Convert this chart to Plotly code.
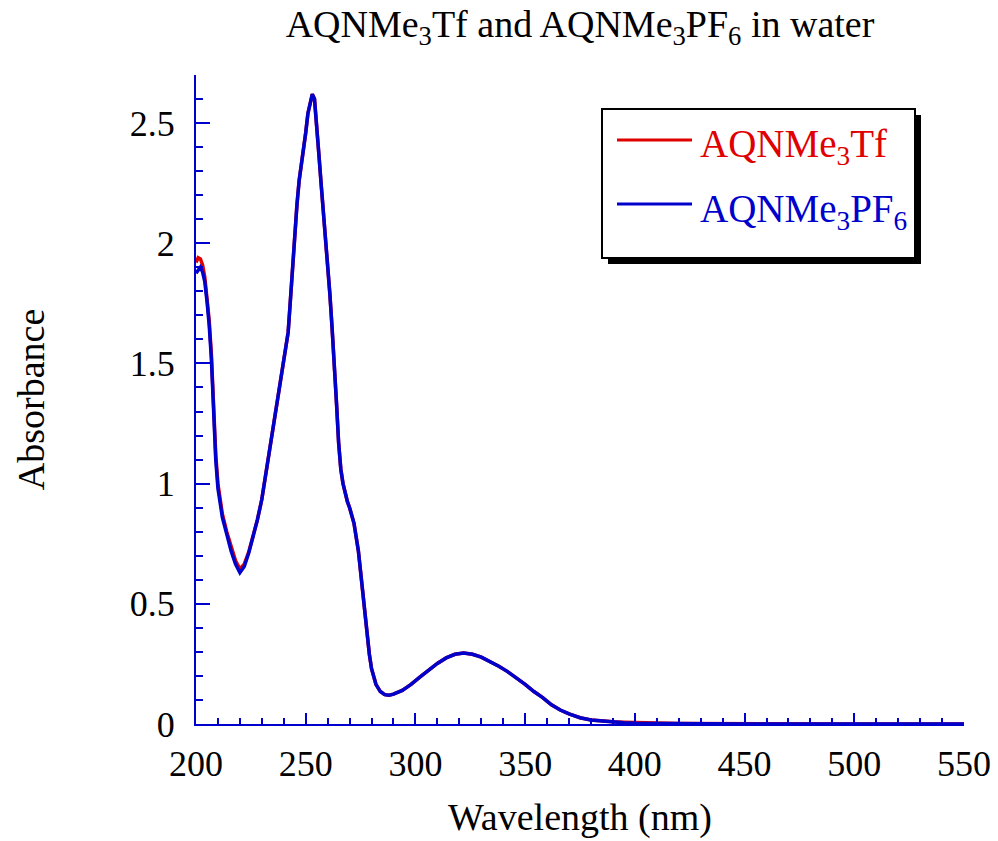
import plotly.graph_objects as go

# UV-vis spectra of the two anthraquinone salts in water
wavelength = [200, 201, 202, 203, 204, 205, 206, 207, 208, 209, 210, 212, 214, 216, 218,
              220, 222, 224, 226, 228, 230, 232, 234, 236, 238, 239, 240, 241, 242, 243,
              244, 245, 246, 247, 248, 249, 250, 251, 252, 253, 254, 255, 256, 257, 258,
              259, 260, 261, 262, 263, 264, 265, 266, 267, 268, 269, 270, 271, 272, 274,
              275, 276, 277, 278, 279, 280, 282, 284, 286, 288, 290, 294, 298, 302, 306,
              310, 314, 318, 322, 326, 330, 334, 338, 342, 346, 350, 354, 358, 362, 366,
              370, 375, 380, 385, 390, 395, 400, 410, 420, 450, 500, 550]

abs_tf = [1.92, 1.94, 1.935, 1.91, 1.86, 1.78, 1.68, 1.54, 1.32, 1.12, 1.00, 0.875, 0.80, 0.735, 0.68,
          0.645, 0.665, 0.715, 0.785, 0.85, 0.935, 1.05, 1.17, 1.28, 1.39, 1.45, 1.50, 1.56, 1.63, 1.76,
          1.90, 2.04, 2.16, 2.26, 2.32, 2.39, 2.46, 2.54, 2.59, 2.62, 2.60, 2.50, 2.37, 2.25, 2.14,
          2.03, 1.91, 1.79, 1.65, 1.51, 1.34, 1.17, 1.06, 1.00, 0.955, 0.925, 0.90, 0.87, 0.835, 0.72,
          0.63, 0.53, 0.44, 0.36, 0.29, 0.23, 0.165, 0.135, 0.122, 0.12, 0.124, 0.14, 0.165, 0.195, 0.225,
          0.252, 0.275, 0.29, 0.295, 0.29, 0.278, 0.26, 0.24, 0.218, 0.193, 0.165, 0.135, 0.11, 0.08, 0.058,
          0.042, 0.026, 0.017, 0.012, 0.009, 0.007, 0.005, 0.004, 0.002, 0.0, 0.0, 0.0]

abs_pf6 = [1.875, 1.89, 1.90, 1.88, 1.84, 1.76, 1.66, 1.52, 1.30, 1.10, 0.98, 0.86, 0.79, 0.72, 0.665,
           0.63, 0.655, 0.71, 0.78, 0.85, 0.935, 1.05, 1.17, 1.28, 1.39, 1.45, 1.50, 1.56, 1.63, 1.76,
           1.90, 2.04, 2.16, 2.26, 2.32, 2.39, 2.46, 2.54, 2.59, 2.62, 2.60, 2.50, 2.37, 2.25, 2.14,
           2.03, 1.91, 1.79, 1.65, 1.51, 1.34, 1.17, 1.06, 1.00, 0.955, 0.925, 0.90, 0.87, 0.835, 0.72,
           0.63, 0.53, 0.44, 0.36, 0.29, 0.23, 0.165, 0.135, 0.122, 0.12, 0.124, 0.14, 0.165, 0.195, 0.225,
           0.252, 0.275, 0.29, 0.295, 0.29, 0.278, 0.26, 0.24, 0.218, 0.193, 0.165, 0.135, 0.11, 0.08, 0.058,
           0.042, 0.026, 0.017, 0.012, 0.008, 0.005, 0.003, 0.002, 0.001, 0.0, 0.0, 0.0]

series_names = ["AQNMe<sub>3</sub>Tf", "AQNMe<sub>3</sub>PF<sub>6</sub>"]
series_colors = ["#e00000", "#0000cc"]
title_text = "AQNMe<sub>3</sub>Tf and AQNMe<sub>3</sub>PF<sub>6</sub> in water"

W, H = 998, 841
ML, MR, MT, MB = 196, 34, 75, 117
AXIS = "#0000cc"
FONT = "Liberation Serif, Times New Roman, serif"


def px(x):
    return (x - ML) / (W - ML - MR)


def py(y):
    return (H - MB - y) / (H - MT - MB)


fig = go.Figure()
for ys, name, color in zip([abs_tf, abs_pf6], series_names, series_colors):
    fig.add_trace(go.Scatter(x=wavelength, y=ys, mode="lines", name=name,
                             line=dict(color=color, width=3.5), showlegend=False))

# Legend box with drop shadow
shapes = [
    dict(type="rect", xref="paper", yref="paper", x0=px(608), x1=px(921), y0=py(115), y1=py(264),
         fillcolor="black", line=dict(width=0), layer="above"),
    dict(type="rect", xref="paper", yref="paper", x0=px(602), x1=px(915), y0=py(109), y1=py(258),
         fillcolor="white", line=dict(color="black", width=2), layer="above"),
]
annotations = []
for i, (name, color) in enumerate(zip(series_names, series_colors)):
    yl = 140 + i * 64
    shapes.append(dict(type="line", xref="paper", yref="paper", x0=px(617), x1=px(692),
                       y0=py(yl), y1=py(yl), line=dict(color=color, width=3), layer="above"))
    annotations.append(dict(text=name, xref="paper", yref="paper", x=px(698), y=py(yl + 7),
                            xanchor="left", yanchor="middle", showarrow=False,
                            font=dict(family=FONT, size=39, color=color)))

fig.update_layout(
    width=W, height=H,
    margin=dict(l=ML, r=MR, t=MT, b=MB, pad=0),
    paper_bgcolor="white", plot_bgcolor="white",
    font=dict(family=FONT, color="black"),
    title=dict(text=title_text, xref="paper", x=0.5, xanchor="center",
               y=1 - 24 / H, yanchor="middle",
               font=dict(family=FONT, size=38, color="black")),
    shapes=shapes, annotations=annotations,
    xaxis=dict(range=[200, 550], showgrid=False, zeroline=False, automargin=False,
               showline=True, linecolor=AXIS, linewidth=2,
               tickmode="linear", tick0=200, dtick=50, ticks="inside", ticklen=11,
               tickwidth=1.5, tickcolor=AXIS,
               minor=dict(dtick=10, ticks="inside", ticklen=6, tickwidth=1.5, tickcolor=AXIS),
               tickfont=dict(family=FONT, size=36, color="black"), ticklabelstandoff=7,
               title=dict(text="Wavelength (nm)", font=dict(family=FONT, size=38, color="black"),
                          standoff=20)),
    yaxis=dict(range=[0, 2.7], showgrid=False, zeroline=False, automargin=False,
               showline=True, linecolor=AXIS, linewidth=2,
               tickmode="linear", tick0=0, dtick=0.5, ticks="inside", ticklen=14,
               tickwidth=1.5, tickcolor=AXIS,
               minor=dict(dtick=0.1, ticks="inside", ticklen=7, tickwidth=1.5, tickcolor=AXIS),
               tickfont=dict(family=FONT, size=36, color="black"), ticklabelstandoff=12,
               title=dict(text="Absorbance", font=dict(family=FONT, size=38, color="black"),
                          standoff=73)),
)

fig.write_html("out.html")
